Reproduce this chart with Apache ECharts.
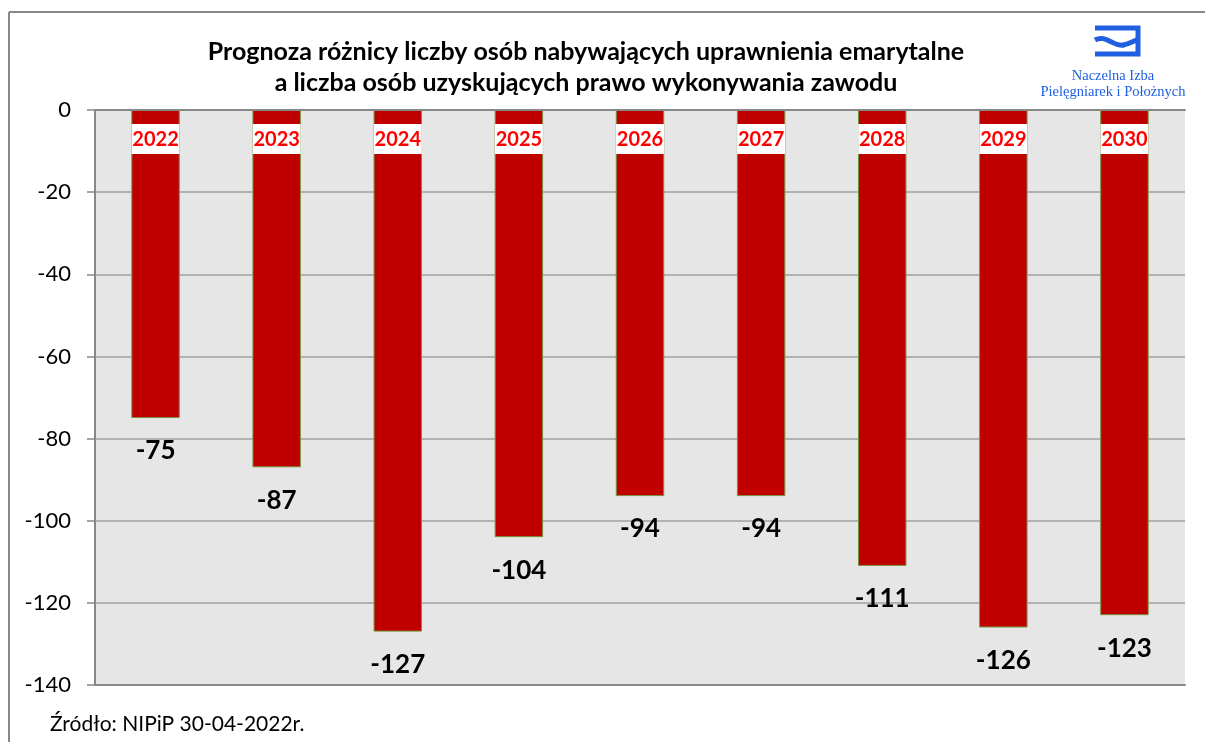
<!DOCTYPE html>
<html>
<head>
<meta charset="utf-8">
<title>Prognoza różnicy</title>
<script src="https://cdn.jsdelivr.net/npm/echarts@6/dist/echarts.min.js"></script>
<style>
  html, body { margin: 0; padding: 0; background: #fff; }
  #chart { width: 1205px; height: 742px; }
</style>
</head>
<body>
<div id="chart"></div>
<script>
// lata i wartości
const years = ['2022', '2023', '2024', '2025', '2026', '2027', '2028', '2029', '2030'];
const values = [-75, -87, -127, -104, -94, -94, -111, -126, -123];
const yMin = -140;
const yMax = 0;
const yStep = 20;

const font = 'Lato, "Open Sans", sans-serif';
const blue = '#1f5fe0';

const chart = echarts.init(document.getElementById('chart'));

chart.setOption({
  animation: false,
  title: {
    text: 'Prognoza różnicy liczby osób nabywających uprawnienia emarytalne\na liczba osób uzyskujących prawo wykonywania zawodu',
    left: 581,
    top: 31,
    textAlign: 'center',
    textStyle: {
      fontFamily: font,
      fontSize: 25,
      fontWeight: 'bold',
      color: '#000',
      lineHeight: 31
    }
  },
  grid: {
    left: 95,
    right: 20,
    top: 110,
    bottom: 57,
    show: true,
    backgroundColor: '#e6e6e6',
    borderWidth: 0
  },
  xAxis: [
    {
      type: 'category',
      data: years,
      position: 'top',
      z: 5,
      axisLine: { onZero: false, lineStyle: { color: '#888', width: 2 } },
      axisTick: { inside: true, length: 6, lineStyle: { color: '#888', width: 2 } },
      axisLabel: {
        inside: true,
        margin: 14,
        fontFamily: font,
        fontSize: 20,
        fontWeight: 'bold',
        color: '#ff0000',
        backgroundColor: '#fff',
        width: 48,
        align: 'center',
        lineHeight: 22,
        padding: [5, 0, 3, 0]
      }
    },
    {
      // dolna krawędź obszaru wykresu
      type: 'category',
      data: years,
      position: 'bottom',
      axisLine: { onZero: false, lineStyle: { color: '#888', width: 2 } },
      axisTick: { show: false },
      axisLabel: { show: false }
    }
  ],
  yAxis: {
    type: 'value',
    min: yMin,
    max: yMax,
    interval: yStep,
    axisLine: { show: true, lineStyle: { color: '#888', width: 2 } },
    axisTick: { show: true, length: 8, lineStyle: { color: '#888', width: 1.5 } },
    axisLabel: {
      margin: 24,
      fontFamily: font,
      fontSize: 22,
      color: '#000'
    },
    splitLine: { lineStyle: { color: '#a0a0a0', width: 1.5 } }
  },
  series: [
    {
      type: 'bar',
      data: values,
      barWidth: '40%',
      itemStyle: {
        color: '#c00000',
        borderColor: '#77933c',
        borderWidth: 1
      },
      label: {
        show: true,
        position: 'bottom',
        distance: 20,
        fontFamily: font,
        fontSize: 26,
        fontWeight: 'bold',
        color: '#000'
      }
    }
  ],
  graphic: [
    // ramka
    { type: 'line', shape: { x1: 9, y1: 12, x2: 1205, y2: 12 }, style: { stroke: '#888', lineWidth: 2 } },
    { type: 'line', shape: { x1: 9, y1: 12, x2: 9, y2: 742 }, style: { stroke: '#888', lineWidth: 2 } },
    // logo NIPiP
    {
      type: 'polyline',
      shape: { points: [[1095, 28], [1138, 28], [1138, 54], [1095, 54]] },
      style: { stroke: blue, fill: null, lineWidth: 5 }
    },
    {
      type: 'bezierCurve',
      shape: { x1: 1095, y1: 40, cpx1: 1106, cpy1: 34, cpx2: 1113, cpy2: 47, x2: 1124, y2: 45 },
      style: { stroke: blue, fill: null, lineWidth: 5 }
    },
    {
      type: 'bezierCurve',
      shape: { x1: 1123, y1: 45, cpx1: 1130, cpy1: 44, cpx2: 1133, cpy2: 41, x2: 1137, y2: 40 },
      style: { stroke: blue, fill: null, lineWidth: 5 }
    },
    {
      type: 'text',
      x: 1113, y: 76,
      style: {
        text: 'Naczelna Izba',
        fontFamily: '"Liberation Serif", serif',
        fontSize: 14.5,
        fill: blue,
        align: 'center',
        verticalAlign: 'middle'
      }
    },
    {
      type: 'text',
      x: 1113, y: 92,
      style: {
        text: 'Pielęgniarek i Położnych',
        fontFamily: '"Liberation Serif", serif',
        fontSize: 14.5,
        fill: blue,
        align: 'center',
        verticalAlign: 'middle'
      }
    },
    // źródło
    {
      type: 'text',
      x: 50, y: 724,
      style: {
        text: 'Źródło: NIPiP 30-04-2022r.',
        fontFamily: font,
        fontSize: 21,
        fill: '#000',
        align: 'left',
        verticalAlign: 'middle'
      }
    }
  ]
});
</script>
</body>
</html>
